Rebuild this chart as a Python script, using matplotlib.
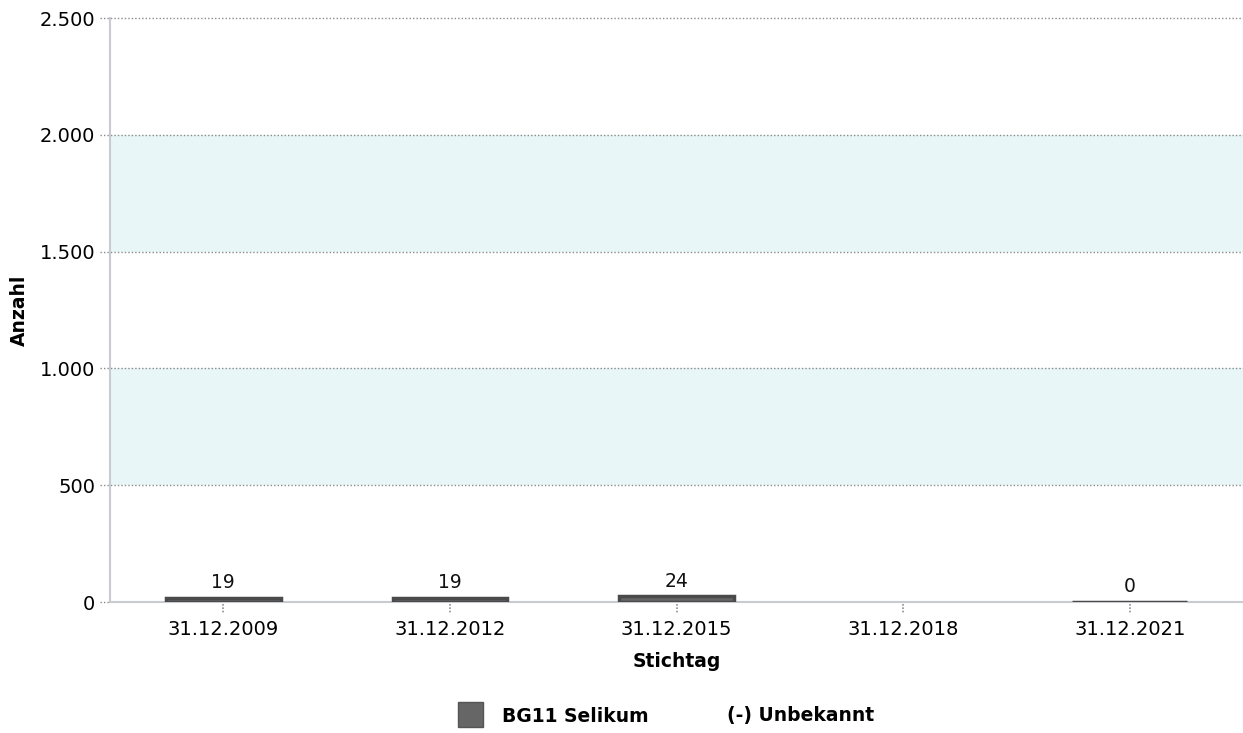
import numpy as np
import matplotlib.pyplot as plt
from matplotlib.patches import Rectangle

categories = ["31.12.2009", "31.12.2012", "31.12.2015", "31.12.2018", "31.12.2021"]
values = [19, 19, 24, None, 0]
series_name = "BG11 Selikum"
unknown_name = "(-) Unbekannt"
yticks = [0, 500, 1000, 1500, 2000, 2500]
ytick_labels = ["0", "500", "1.000", "1.500", "2.000", "2.500"]

plt.rcParams.update({"font.family": ["DejaVu Sans"], "font.size": 14})

W, H = 1243, 733
fig = plt.figure(figsize=(W / 100, H / 100), dpi=100)
ax = fig.add_axes([110 / W, 1 - 602 / H, 1133 / W, 584 / H])

# alternating bands
for lo, hi in [(500, 1000), (1500, 2000)]:
    ax.axhspan(lo, hi, color="#e8f6f7", zorder=0, lw=0)
dot = (0, (1, 1.5))
for yv in yticks[1:]:
    ax.plot([-0.009, 1], [yv, yv], transform=ax.get_yaxis_transform(),
            color="#8a8a8a", lw=1, ls=dot, zorder=1, clip_on=False)
ax.plot([-0.009, 0], [0, 0], transform=ax.get_yaxis_transform(),
        color="#8a8a8a", lw=1, ls=dot, clip_on=False)

x = np.arange(len(categories))
for xi in x:
    ax.plot([xi, xi], [-0.004, -0.02], transform=ax.get_xaxis_transform(),
            color="#909090", lw=1.2, ls=(0, (1, 1)), clip_on=False)
for xi, v in zip(x, values):
    if v is None:
        continue
    ax.bar(xi, v, 0.505, color="#666666", edgecolor="#4a4a4a", lw=2.5, zorder=3)
    ax.text(xi, v + 25, f"{v}", ha="center", va="bottom", fontsize=13.5, color="#111111")

ax.set_xlim(-0.5, len(categories) - 0.5)
ax.set_ylim(0, 2500)
ax.set_yticks(yticks)
ax.set_yticklabels(ytick_labels)
ax.set_xticks(x)
ax.set_xticklabels(categories)
ax.tick_params(axis="y", length=0, pad=10.5)
ax.tick_params(axis="x", length=0, pad=13)
for s in ["top", "right"]:
    ax.spines[s].set_visible(False)
ax.spines["left"].set_color("#c8ccd0")
ax.spines["bottom"].set_color("#c8ccd0")
ax.spines["left"].set_linewidth(1.5)
ax.spines["bottom"].set_linewidth(1.5)

ax.set_ylabel("Anzahl", fontweight="bold", fontsize=13.5)
ax.yaxis.set_label_coords(-81 / 1133, 0.5)
ax.set_xlabel("Stichtag", fontweight="bold", fontsize=13.5)
ax.xaxis.set_label_coords(0.5, -50 / 584)

# legend drawn by hand
fig.patches.append(Rectangle((458 / W, 1 - 727 / H), 25 / W, 25 / H,
                             transform=fig.transFigure, facecolor="#666666",
                             edgecolor="#555555", lw=1))
fig.text(502 / W, 1 - 716 / H, series_name, fontweight="bold", fontsize=13.5,
         va="center", ha="left")
fig.text(727 / W, 1 - 716 / H, unknown_name, fontweight="bold", fontsize=13.5,
         va="center", ha="left")

fig.savefig("out.png", dpi=100)
